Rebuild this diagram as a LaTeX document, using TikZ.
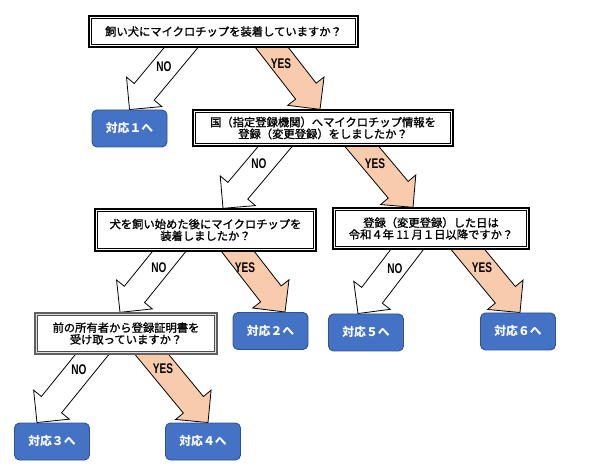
\documentclass[tikz,border=0pt]{standalone}
\usepackage{fontspec}
\setmainfont{Liberation Sans}
\newfontfamily\jpq{Noto Sans CJK JP}[FakeBold=1.3]
\newfontfamily\jpr{Noto Sans CJK JP}
\newfontfamily\yn{Liberation Sans}[FakeStretch=0.72]
\usetikzlibrary{calc}
\pgfdeclarelayer{bg}
\pgfsetlayers{bg,main}
\definecolor{rfill}{HTML}{4472C4}
\definecolor{rdraw}{HTML}{2F528F}
\definecolor{yesfill}{HTML}{F8CBAD}
\newcommand{\blockarrow}[3]{%
  \coordinate (bS) at (#2);
  \coordinate (bE) at (#3);
  \coordinate (bS2) at ($(bS)!-12pt!(bE)$);
  \coordinate (bH) at ($(bE)!23pt!(bS)$);
  \draw[#1] ($(bS2)!13pt!90:(bE)$) -- ($(bH)!13pt!90:(bE)$) -- ($(bH)!23pt!90:(bE)$)
    -- (bE) -- ($(bH)!23pt!-90:(bE)$) -- ($(bH)!13pt!-90:(bE)$) -- ($(bS2)!13pt!-90:(bE)$) -- cycle;
}
\begin{document}
\begin{tikzpicture}[x=1pt,y=-1pt,
  qbox/.style={draw=black, line width=1.3pt, fill=white, inner sep=0pt, align=center,
    font=\jpq\fontsize{11.3}{11.8}\selectfont,
    path picture={\draw[line width=0.6pt] ([shift={(2.6pt,2.6pt)}]path picture bounding box.south west) rectangle ([shift={(-2.6pt,-2.6pt)}]path picture bounding box.north east);}},
  qgray/.style={qbox, draw=gray!75!black, fill=gray!25,
    path picture={\draw[line width=0.6pt, draw=gray!60!black, fill=white] ([shift={(2.6pt,2.6pt)}]path picture bounding box.south west) rectangle ([shift={(-2.6pt,-2.6pt)}]path picture bounding box.north east);}},
  rbox/.style={draw=rdraw, fill=rfill, line width=0.9pt, rounded corners=5pt,
    minimum width=75pt, minimum height=37pt, inner sep=0pt, text=white,
    font=\jpr\bfseries\fontsize{11.8}{12}\selectfont},
  noarrow/.style={draw=black, line width=0.8pt, fill=white, line join=miter},
  yesarrow/.style={draw=black, line width=0.8pt, fill=yesfill, line join=miter},
  lbl/.style={inner sep=0pt, font=\yn\bfseries\fontsize{14}{14}\selectfont}
]
\useasboundingbox (0,0) rectangle (590,476);

% questions
\node[qbox, minimum width=269pt, minimum height=31pt] (q1) at (223.5,31.5) {飼い犬にマイクロチップを装着していますか？};
\node[qbox, minimum width=260pt, minimum height=36pt] (q2) at (323,128) {国（指定登録機関）へマイクロチップ情報を\\登録（変更登録）をしましたか？};
\node[qbox, minimum width=221pt, minimum height=42pt] (q3) at (205.5,230) {犬を飼い始めた後にマイクロチップを\\装着しましたか？};
\node[qbox, minimum width=196pt, minimum height=41pt] (q4) at (431,228.5) {登録（変更登録）した日は\\令和４年 11 月１日以降ですか？};
\node[qgray, minimum width=182pt, minimum height=41pt] (q5) at (126,333.5) {前の所有者から登録証明書を\\受け取っていますか？};

% results
\node[rbox] (r1) at (129.5,128.5) {対応１へ};
\node[rbox] (r2) at (270.5,331) {対応２へ};
\node[rbox] (r3) at (52,441.5) {対応３へ};
\node[rbox] (r4) at (203,441.5) {対応４へ};
\node[rbox] (r5) at (366,332.5) {対応５へ};
\node[rbox] (r6) at (518,331.5) {対応６へ};

% arrows
\begin{pgfonlayer}{bg}
\blockarrow{noarrow}{$(q1.south)+(-42.5,0)$}{r1.north}
\blockarrow{yesarrow}{$(q1.south)+(48.5,0)$}{$(q2.north)+(-3,0)$}
\blockarrow{noarrow}{$(q2.south)+(-48,0)$}{$(q3.north)+(17.5,0)$}
\blockarrow{yesarrow}{$(q2.south)+(39,0)$}{$(q4.north)+(-18,0)$}
\blockarrow{noarrow}{$(q3.south)+(-36.5,0)$}{$(q5.north)+(-6,0)$}
\blockarrow{yesarrow}{$(q3.south)+(32.5,0)$}{$(r2.north)+(14.5,0)$}
\blockarrow{noarrow}{$(q4.south)+(-24,0)$}{$(r5.north)+(-8,0)$}
\blockarrow{yesarrow}{$(q4.south)+(37,0)$}{$(r6.north)+(2,0)$}
\blockarrow{noarrow}{$(q5.south)+(-34,0)$}{$(r3.north)+(-15,0)$}
\blockarrow{yesarrow}{$(q5.south)+(26,0)$}{$(r4.north)+(5,0)$}
\end{pgfonlayer}

% labels
\node[lbl] (l1n) at (164,67) {NO};
\node[lbl] (l1y) at (281,64) {YES};
\node[lbl] (l2n) at (259,164) {NO};
\node[lbl] (l2y) at (375,164) {YES};
\node[lbl] (l3n) at (159,268) {NO};
\node[lbl] (l3y) at (245,268) {YES};
\node[lbl] (l4n) at (395,269) {NO};
\node[lbl] (l4y) at (482,268) {YES};
\node[lbl] (l5n) at (79,370) {NO};
\node[lbl] (l5y) at (163,369) {YES};
\end{tikzpicture}
\end{document}
